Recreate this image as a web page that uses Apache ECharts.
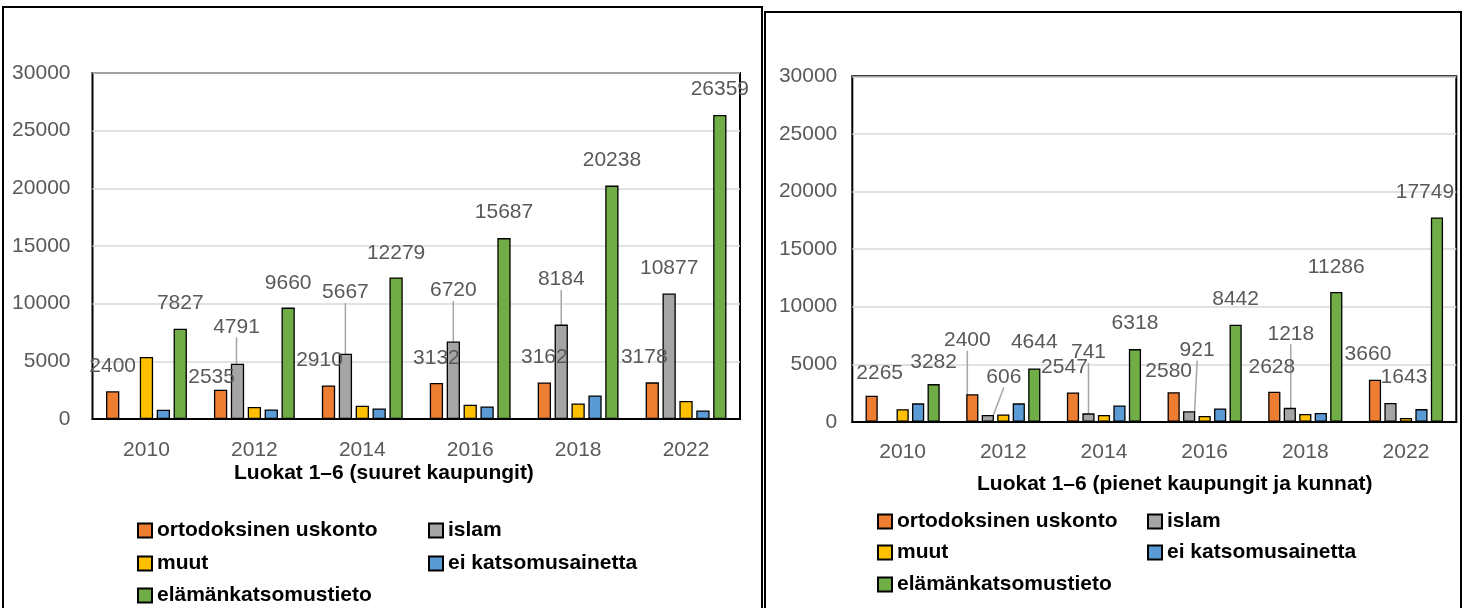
<!DOCTYPE html>
<html>
<head>
<meta charset="utf-8">
<script src="https://cdn.jsdelivr.net/npm/echarts@6.0.0/dist/echarts.min.js"></script>
<style>
  html, body { margin: 0; padding: 0; background: #fff; }
  #chart { width: 1475px; height: 608px; }
</style>
</head>
<body>
<div id="chart"></div>
<script>
// categories and series names
const years = ['2010', '2012', '2014', '2016', '2018', '2022'];
const names = ['ortodoksinen uskonto', 'islam', 'muut', 'ei katsomusainetta', 'elämänkatsomustieto'];
const colors = ['#ED7D31', '#A5A5A5', '#FFC000', '#5B9BD5', '#70AD47'];
const yTicks = [0, 5000, 10000, 15000, 20000, 25000, 30000];

// Luokat 1–6 (suuret kaupungit)
const bigOrtodoksinen = [2400, 2535, 2910, 3132, 3162, 3178];
const bigIslam = [null, 4791, 5667, 6720, 8184, 10877];
const bigMuut = [5370, 1040, 1150, 1240, 1350, 1560];
const bigEi = [805, 830, 920, 1090, 2045, 745];
const bigElama = [7827, 9660, 12279, 15687, 20238, 26359];

// Luokat 1–6 (pienet kaupungit ja kunnat)
const smallOrtodoksinen = [2265, 2400, 2547, 2580, 2628, 3660];
const smallIslam = [null, 606, 741, 921, 1218, 1643];
const smallMuut = [1100, 640, 600, 510, 680, 340];
const smallEi = [1610, 1610, 1430, 1170, 770, 1110];
const smallElama = [3282, 4644, 6318, 8442, 11286, 17749];

// label placement (offset of label centre from bar top centre) and leader lines
const bigShift = {
  0: [[0, -25], [-9, -12.5], [-9, -25], [0, -25], [0, -25.5], [-8, -25.5]],
  1: [[0, -25], [-1, -37], [0, -61], [0, -51], [0, -45], [0, -25]],
  4: [[0, -26], [0, -24.5], [0, -24.5], [0, -25.5], [0, -25], [0, -25.5]]
};
const bigLeader = { 0: [], 1: [1, 2, 3, 4], 4: [] };
const smallShift = {
  0: [[8, -23], [-5, -54], [-8.5, -25], [-5, -20.5], [-2.5, -24.5], [-7, -25.5]],
  1: [[0, -25], [16, -38], [0, -61], [8, -61], [1, -74], [13.5, -25.5]],
  4: [[0, -22], [0, -26], [0, -26], [0, -25], [0, -25], [-12, -25]]
};
const smallLeader = { 0: [1], 1: [1, 2, 3, 4], 4: [] };

const FONT = 'Liberation Sans';
const numColor = '#595959';

function shiftLabels(shifts) {
  return function (p) {
    const s = shifts[p.dataIndex] || [0, -25];
    return {
      x: p.rect.x + p.rect.width / 2 + s[0],
      y: p.rect.y + s[1],
      align: 'center',
      verticalAlign: 'middle'
    };
  };
}

function makeSeries(gridIdx, lists, shifts, leaders, barWidth) {
  return lists.map(function (vals, k) {
    const labelled = shifts[k] !== undefined;
    const lead = leaders[k] || [];
    const s = {
      name: names[k],
      type: 'bar',
      xAxisIndex: gridIdx,
      yAxisIndex: gridIdx,
      barWidth: barWidth,
      barGap: '27%',
      data: vals.map(function (v, i) {
        return { value: v, labelLine: { show: lead.indexOf(i) >= 0 } };
      }),
      itemStyle: { color: colors[k], borderColor: '#000', borderWidth: 1.3 },
      emphasis: { disabled: true },
      label: {
        show: labelled,
        position: 'top',
        fontSize: 21,
        fontFamily: FONT,
        color: numColor
      },
      labelLine: { show: false, lineStyle: { color: '#A6A6A6', width: 1.5 } }
    };
    if (labelled) s.labelLayout = shiftLabels(shifts[k]);
    return s;
  });
}

function makeLegends(col1, col2, rows) {
  const pos = [[col1, rows[0]], [col2, rows[0]], [col1, rows[1]], [col2, rows[1]], [col1, rows[2]]];
  return names.map(function (n, k) {
    return {
      data: [n],
      left: pos[k][0],
      top: pos[k][1],
      padding: 0,
      icon: 'rect',
      itemWidth: 14,
      itemHeight: 14,
      selectedMode: false,
      textStyle: { fontSize: 21, fontWeight: 'bold', color: '#000', fontFamily: FONT }
    };
  });
}

function makeYAxis(gridIdx, margin) {
  return {
    type: 'value',
    gridIndex: gridIdx,
    min: yTicks[0],
    max: yTicks[yTicks.length - 1],
    interval: yTicks[1] - yTicks[0],
    axisLine: { show: false },
    axisTick: { show: false },
    axisLabel: {
      fontSize: 21, fontFamily: FONT, color: numColor, margin: margin,
      formatter: function (v) { return String(v); }
    },
    splitLine: { lineStyle: { color: '#D9D9D9', width: 1.5 } }
  };
}

function makeXAxis(gridIdx, margin) {
  return {
    type: 'category',
    gridIndex: gridIdx,
    data: years,
    axisLine: { show: true, lineStyle: { color: '#000', width: 2 } },
    axisTick: { show: false },
    axisLabel: { fontSize: 21, fontFamily: FONT, color: numColor, margin: margin }
  };
}

const chart = echarts.init(document.getElementById('chart'));
chart.setOption({
  animation: false,
  backgroundColor: '#fff',
  title: [
    { text: 'Luokat 1–6 (suuret kaupungit)', left: 234, top: 463, padding: 0,
      textStyle: { fontSize: 21, fontWeight: 'bold', color: '#000', fontFamily: FONT } },
    { text: 'Luokat 1–6 (pienet kaupungit ja kunnat)', left: 977, top: 474, padding: 0,
      textStyle: { fontSize: 21, fontWeight: 'bold', color: '#000', fontFamily: FONT } }
  ],
  legend: makeLegends(137, 428, [520, 553, 585]).concat(makeLegends(877, 1147, [511, 542, 574])),
  grid: [
    { left: 92.5, top: 73, width: 647.5, height: 346, show: true, borderColor: '#000', borderWidth: 2, outerBoundsMode: 'none' },
    { left: 852.3, top: 76.3, width: 604, height: 345.6, show: true, borderColor: '#000', borderWidth: 2, outerBoundsMode: 'none' }
  ],
  xAxis: [makeXAxis(0, 21), makeXAxis(1, 19.5)],
  yAxis: [makeYAxis(0, 22), makeYAxis(1, 15)],
  graphic: [
    { type: 'rect', shape: { x: 3, y: 7, width: 759, height: 620 }, style: { fill: 'none', stroke: '#000', lineWidth: 2 }, silent: true },
    { type: 'rect', shape: { x: 765, y: 12, width: 696, height: 620 }, style: { fill: 'none', stroke: '#000', lineWidth: 2 }, silent: true }
  ],
  series: makeSeries(0, [bigOrtodoksinen, bigIslam, bigMuut, bigEi, bigElama], bigShift, bigLeader, 13.3)
    .concat(makeSeries(1, [smallOrtodoksinen, smallIslam, smallMuut, smallEi, smallElama], smallShift, smallLeader, 12.2))
});
</script>
</body>
</html>
